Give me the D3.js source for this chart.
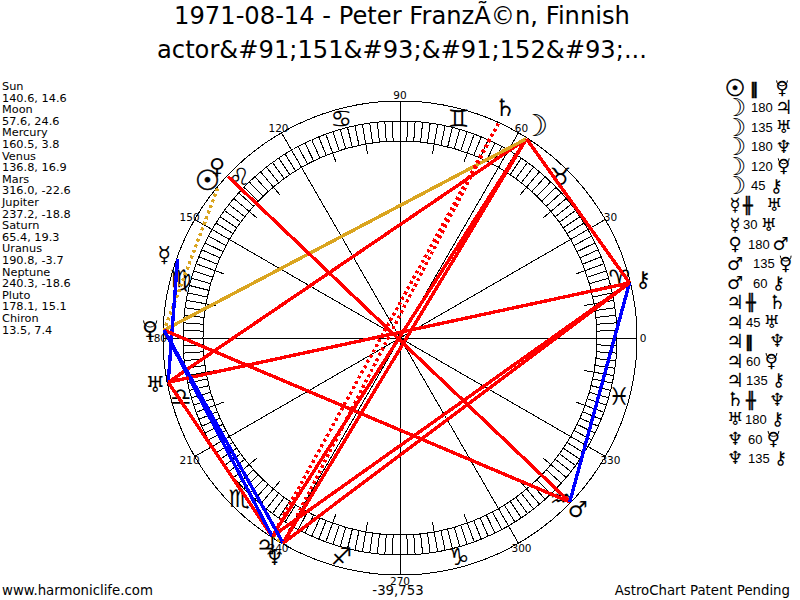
<!DOCTYPE html>
<html>
<head>
<meta charset="utf-8">
<script src="https://cdn.jsdelivr.net/npm/d3@7"></script>
<style>
body { margin: 0; background: #fff; }
text { font-family: "DejaVu Sans", sans-serif; fill: #000; }
</style>
</head>
<body>
<svg id="chart" width="800" height="600"></svg>
<script>
var titleLines = ["1971-08-14 - Peter FranzÃ©n, Finnish", "actor&#91;151&#93;&#91;152&#93;..."];

var planetNames = ["Sun", "Moon", "Mercury", "Venus", "Mars", "Jupiter", "Saturn", "Uranus", "Neptune", "Pluto", "Chiron"];
var longitudes = [140.6, 57.6, 160.5, 136.8, 316.0, 237.2, 65.4, 190.8, 240.3, 178.1, 13.5];
var declinations = ["14.6", "24.6", "3.8", "16.9", "-22.6", "-18.8", "19.3", "-3.7", "-18.6", "15.1", "7.4"];
// pluto is the venus sign with a cup on top, see drawGlyph
var planetGlyphs = ["\u2609", "\u263D", "\u263F", "\u2640", "\u2642", "\u2643", "\u2644", "\u2645", "\u2646", "\u2640", "\u26B7"];
var zodiacGlyphs = ["\u2648", "\u2649", "\u264A", "\u264B", "\u264C", "\u264D", "\u264E", "\u264F", "\u2650", "\u2651", "\u2652", "\u2653"];

// planet A, aspect, planet B, in the order of the list on the right
var aspectFrom = [0, 1, 1, 1, 1, 1, 2, 2, 3, 4, 4, 5, 5, 5, 5, 5, 6, 7, 8, 8];
var aspectKind = ["par", "180", "135", "180", "120", "45", "con", "30", "180", "135", "60", "con", "45", "par", "60", "135", "con", "180", "60", "135"];
var aspectTo = [9, 5, 7, 8, 9, 10, 7, 7, 4, 9, 10, 6, 7, 8, 9, 10, 8, 10, 9, 10];

var kindColors = { "par": "goldenrod", "con": "#f00", "120": "goldenrod", "180": "#f00", "135": "#f00", "45": "#f00", "60": "#00f", "30": "#00f" };

// layout per planet: glyph size, distance from centre, width in the right list
var glyphSizes = [28, 30, 22, 22, 22, 24, 24, 22, 22, 22, 22];
var glyphRadius = [249, 252, 250, 251, 247, 247, 253, 249, 253, 250, 250];
var listAdvance = [24, 24, 16, 21, 26, 19, 19, 18, 21, 20, 20];

var svg = d3.select("#chart");
var cx = 400, cy = 338;

var angle = d3.scaleLinear().domain([0, 360]).range([0, 2 * Math.PI]);
function px(deg, r) { return cx + r * Math.cos(angle(deg)); }
function py(deg, r) { return cy - r * Math.sin(angle(deg)); }

var rOuter = 237, rBandOut = 217, rBandIn = 197, rLong = 187, rPlanet = 236;

// draws planet i centred on x,y
function drawGlyph(parent, i, x, y, size) {
  var t = parent.append("text")
    .attr("x", x)
    .attr("y", y + size * 0.35)
    .attr("text-anchor", "middle")
    .style("font-size", size + "px")
    .text(planetGlyphs[i]);
  if (i == 0) {
    t.attr("stroke", "#000").attr("stroke-width", 0.6);
  }
  if (i == 9) {
    var w = size * 0.3, top = y - size * 0.42;
    parent.append("path")
      .attr("d", "M" + (x - w) + "," + top + "A" + w + "," + w + " 0 0 0 " + (x + w) + "," + top)
      .attr("fill", "none")
      .attr("stroke", "#000");
  }
}

// TITLE
svg.selectAll(".title")
  .data(titleLines)
  .enter().append("text")
  .attr("class", "title")
  .attr("x", 402)
  .attr("y", function(d, i) { return 24 + i * 34; })
  .attr("text-anchor", "middle")
  .style("font-size", "24.2px")
  .text(function(d) { return d; });

// CIRCLES
svg.selectAll(".ring")
  .data([rOuter, rBandOut, rBandIn])
  .enter().append("circle")
  .attr("class", "ring")
  .attr("cx", cx)
  .attr("cy", cy)
  .attr("r", function(d) { return d; })
  .attr("fill", "none")
  .attr("stroke", "#000");

// BAND TICKS
var ticks = d3.range(0, 360, 2);
svg.selectAll(".tick")
  .data(ticks)
  .enter().append("line")
  .attr("class", "tick")
  .attr("x1", function(d) { return px(d, d % 10 == 0 ? rLong : rBandIn); })
  .attr("y1", function(d) { return py(d, d % 10 == 0 ? rLong : rBandIn); })
  .attr("x2", function(d) { return px(d, rBandOut); })
  .attr("y2", function(d) { return py(d, rBandOut); })
  .attr("stroke", "#000");

// SPOKES
var spokes = d3.range(0, 360, 30);
svg.selectAll(".spoke")
  .data(spokes)
  .enter().append("line")
  .attr("class", "spoke")
  .attr("x1", cx)
  .attr("y1", cy)
  .attr("x2", function(d) { return px(d, rOuter); })
  .attr("y2", function(d) { return py(d, rOuter); })
  .attr("stroke", "#000");

svg.selectAll(".deg")
  .data(spokes)
  .enter().append("text")
  .attr("class", "deg")
  .attr("x", function(d) { return px(d, 243); })
  .attr("y", function(d) { return py(d, 243) + 4; })
  .attr("text-anchor", "middle")
  .style("font-size", "10.5px")
  .text(function(d) { return d; });

// ZODIAC
svg.selectAll(".sign")
  .data(zodiacGlyphs)
  .enter().append("text")
  .attr("class", "sign")
  .attr("x", function(d, i) { return px(15 + i * 30, 227); })
  .attr("y", function(d, i) { return py(15 + i * 30, 227) + 8; })
  .attr("text-anchor", "middle")
  .style("font-size", "24px")
  .text(function(d) { return d; });

// ASPECTS
svg.selectAll(".aspect")
  .data(aspectFrom)
  .enter().append("line")
  .attr("class", "aspect")
  .attr("x1", function(d) { return px(longitudes[d], rPlanet); })
  .attr("y1", function(d) { return py(longitudes[d], rPlanet); })
  .attr("x2", function(d, i) { return px(longitudes[aspectTo[i]], rPlanet); })
  .attr("y2", function(d, i) { return py(longitudes[aspectTo[i]], rPlanet); })
  .attr("stroke", function(d, i) { return kindColors[aspectKind[i]]; })
  .attr("stroke-width", 3.4)
  .attr("stroke-dasharray", function(d, i) {
    var k = aspectKind[i];
    return (k == "par" || k == "con") ? "3 3" : null;
  });

// PLANET GLYPHS
planetGlyphs.forEach(function(g, i) {
  drawGlyph(svg, i, px(longitudes[i], glyphRadius[i]), py(longitudes[i], glyphRadius[i]), glyphSizes[i]);
});

// LEFT LIST
var leftRows = [];
planetNames.forEach(function(name, i) {
  leftRows.push(name);
  leftRows.push(longitudes[i].toFixed(1) + ", " + declinations[i]);
});
svg.selectAll(".left")
  .data(leftRows)
  .enter().append("text")
  .attr("class", "left")
  .attr("x", 2)
  .attr("y", function(d, i) { return 90 + i * 11.6; })
  .style("font-size", "11.3px")
  .text(function(d) { return d; });

// RIGHT LIST, each row flows from the left like a line of text
var rowY = d3.scaleLinear().domain([0, 19]).range([88, 458]);
aspectFrom.forEach(function(from, i) {
  var y = rowY(i), k = aspectKind[i], x = 727 + listAdvance[from], end;
  drawGlyph(svg, from, 735, y, glyphSizes[from] * 0.82);
  if (k == "par" || k == "con") {
    svg.append("text")
      .attr("x", x + (k == "par" ? -1 : 0))
      .attr("y", y + 6)
      .attr("stroke", "#000")
      .attr("stroke-width", 0.5)
      .style("font-size", "16px")
      .style("font-weight", "bold")
      .text(k == "par" ? "\u2016" : "\u256B");
    end = x + 20;
  } else {
    var num = svg.append("text")
      .attr("x", x)
      .attr("y", y + 5)
      .style("font-family", "'Liberation Sans'")
      .style("font-size", "13px")
      .text(k);
    end = x + num.node().getComputedTextLength();
  }
  drawGlyph(svg, aspectTo[i], end + 11, y, glyphSizes[aspectTo[i]] * 0.82);
});

// FOOTER
svg.append("text").attr("x", 2).attr("y", 595).style("font-size", "13.3px").text("www.harmoniclife.com");
svg.append("text").attr("x", 398).attr("y", 595).attr("text-anchor", "middle").style("font-size", "13.3px").text("-39,753");
svg.append("text").attr("x", 790).attr("y", 595).attr("text-anchor", "end").style("font-size", "13.3px").text("AstroChart Patent Pending");

svg.selectAll("line, circle").attr("shape-rendering", "crispEdges");
</script>
</body>
</html>
